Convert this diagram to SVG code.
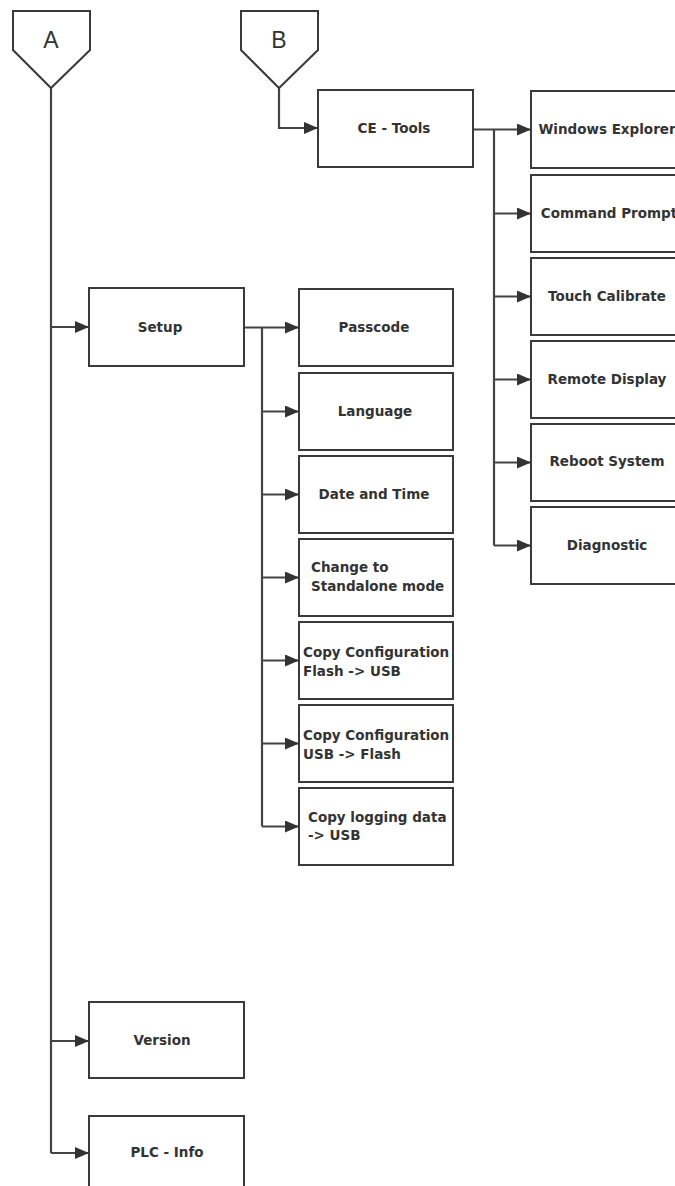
<svg xmlns="http://www.w3.org/2000/svg" width="675" height="1186" viewBox="0 0 675 1186">
<style>
  .box { fill: #fff; stroke: #3a3a3a; stroke-width: 2; }
  .conn { fill: none; stroke: #444; stroke-width: 2.2; }
  .lbl { font-family: "DejaVu Sans", "Liberation Sans", sans-serif; font-weight: bold; font-size: 13.5px; fill: #333; }
  .mid { text-anchor: middle; }
  .off { font-family: "Liberation Sans", Arial, sans-serif; font-size: 23px; fill: #333; text-anchor: middle; }
</style>
<defs>
  <marker id="arr" viewBox="0 0 14 12" refX="14" refY="6" markerWidth="14" markerHeight="12" markerUnits="userSpaceOnUse" orient="auto">
    <path d="M0,0 L14,6 L0,12 Z" fill="#333"/>
  </marker>
</defs>
<rect width="675" height="1186" fill="#fff"/>

<g id="connectors">
  <path class="conn" d="M51,88 V1153"/>
  <path class="conn" d="M51,327 H89" marker-end="url(#arr)"/>
  <path class="conn" d="M51,1041 H89" marker-end="url(#arr)"/>
  <path class="conn" d="M51,1153 H89" marker-end="url(#arr)"/>
  <path class="conn" d="M279,88 V128 H318" marker-end="url(#arr)"/>
  <path class="conn" d="M473,129.5 H531" marker-end="url(#arr)"/>
  <path class="conn" d="M494,129.5 V545.5"/>
  <path class="conn" d="M494,213.5 H531" marker-end="url(#arr)"/>
  <path class="conn" d="M494,296.5 H531" marker-end="url(#arr)"/>
  <path class="conn" d="M494,379.5 H531" marker-end="url(#arr)"/>
  <path class="conn" d="M494,462.5 H531" marker-end="url(#arr)"/>
  <path class="conn" d="M494,545.5 H531" marker-end="url(#arr)"/>
  <path class="conn" d="M244,327.5 H299" marker-end="url(#arr)"/>
  <path class="conn" d="M262,327.5 V826.5"/>
  <path class="conn" d="M262,411.5 H299" marker-end="url(#arr)"/>
  <path class="conn" d="M262,494.5 H299" marker-end="url(#arr)"/>
  <path class="conn" d="M262,577.5 H299" marker-end="url(#arr)"/>
  <path class="conn" d="M262,660.5 H299" marker-end="url(#arr)"/>
  <path class="conn" d="M262,743.5 H299" marker-end="url(#arr)"/>
  <path class="conn" d="M262,826.5 H299" marker-end="url(#arr)"/>
</g>

<g id="offpage-A">
  <polygon class="box" points="13,11 90,11 90,50 51,88 13,50"/>
  <text class="off" x="51" y="48">A</text>
</g>
<g id="offpage-B">
  <polygon class="box" points="241,11 318,11 318,50 279,88 241,50"/>
  <text class="off" x="279" y="48">B</text>
</g>

<g id="ce-tools">
  <rect class="box" x="318" y="90" width="155" height="77"/>
  <text class="lbl mid" x="394" y="133">CE - Tools</text>
</g>
<g id="windows-explorer">
  <rect class="box" x="531" y="91" width="155" height="77"/>
  <text class="lbl mid" x="607" y="134">Windows Explorer</text>
</g>
<g id="command-prompt">
  <rect class="box" x="531" y="175" width="155" height="77"/>
  <text class="lbl mid" x="609" y="218">Command Prompt</text>
</g>
<g id="touch-calibrate">
  <rect class="box" x="531" y="258" width="155" height="77"/>
  <text class="lbl mid" x="607" y="301">Touch Calibrate</text>
</g>
<g id="remote-display">
  <rect class="box" x="531" y="341" width="155" height="77"/>
  <text class="lbl mid" x="607" y="384">Remote Display</text>
</g>
<g id="reboot-system">
  <rect class="box" x="531" y="424" width="155" height="77"/>
  <text class="lbl mid" x="607" y="466">Reboot System</text>
</g>
<g id="diagnostic">
  <rect class="box" x="531" y="507" width="155" height="77"/>
  <text class="lbl mid" x="607" y="550">Diagnostic</text>
</g>

<g id="setup">
  <rect class="box" x="89" y="288" width="155" height="78"/>
  <text class="lbl mid" x="160" y="332">Setup</text>
</g>
<g id="passcode">
  <rect class="box" x="299" y="289" width="154" height="77"/>
  <text class="lbl mid" x="374" y="332">Passcode</text>
</g>
<g id="language">
  <rect class="box" x="299" y="373" width="154" height="77"/>
  <text class="lbl mid" x="375" y="416">Language</text>
</g>
<g id="date-time">
  <rect class="box" x="299" y="456" width="154" height="77"/>
  <text class="lbl mid" x="374" y="499">Date and Time</text>
</g>
<g id="standalone">
  <rect class="box" x="299" y="539" width="154" height="77"/>
  <text class="lbl" x="311" y="572">Change to</text>
  <text class="lbl" x="311" y="591">Standalone mode</text>
</g>
<g id="copy-flash-usb">
  <rect class="box" x="299" y="622" width="154" height="77"/>
  <text class="lbl" x="303" y="657">Copy Configuration</text>
  <text class="lbl" x="303" y="676">Flash -&gt; USB</text>
</g>
<g id="copy-usb-flash">
  <rect class="box" x="299" y="705" width="154" height="77"/>
  <text class="lbl" x="303" y="740">Copy Configuration</text>
  <text class="lbl" x="303" y="759">USB -&gt; Flash</text>
</g>
<g id="copy-logging">
  <rect class="box" x="299" y="788" width="154" height="77"/>
  <text class="lbl" x="308" y="822">Copy logging data</text>
  <text class="lbl" x="308" y="840">-&gt; USB</text>
</g>

<g id="version">
  <rect class="box" x="89" y="1002" width="155" height="76"/>
  <text class="lbl mid" x="162" y="1045">Version</text>
</g>
<g id="plc-info">
  <rect class="box" x="89" y="1116" width="155" height="80"/>
  <text class="lbl mid" x="167" y="1157">PLC - Info</text>
</g>
</svg>
